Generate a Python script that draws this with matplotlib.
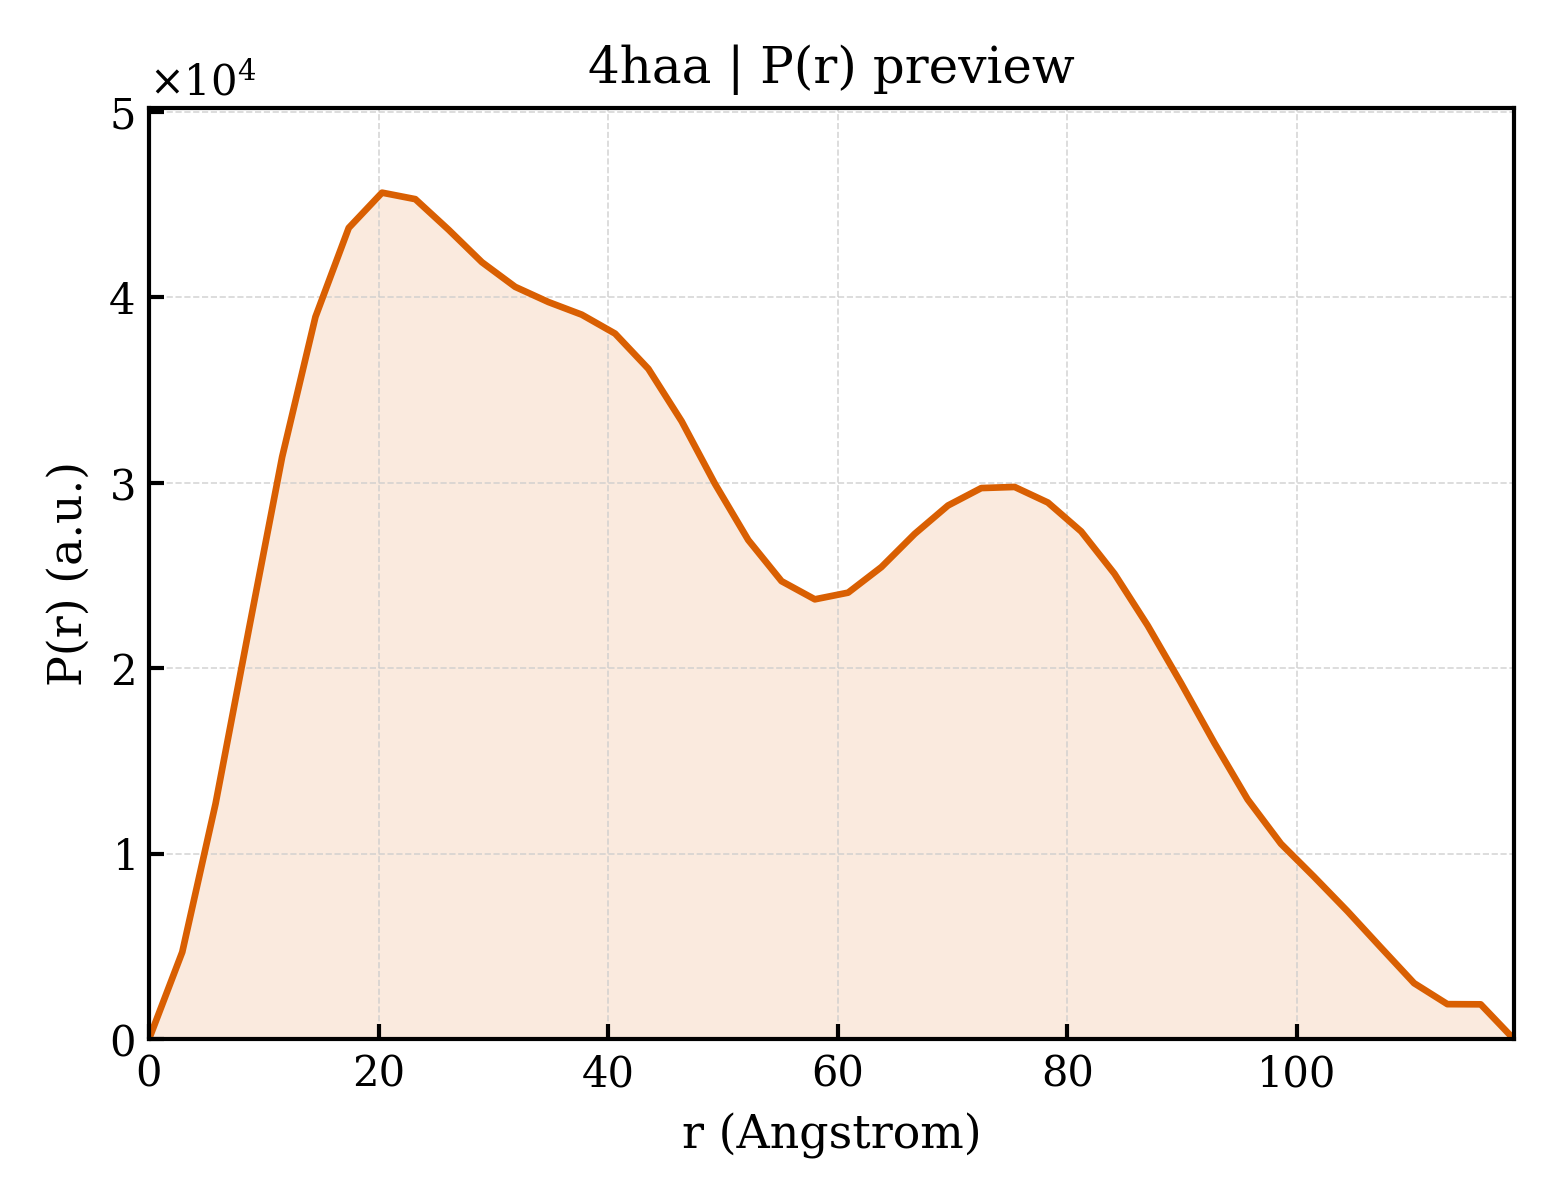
import numpy as np
import matplotlib
matplotlib.use("Agg")
import matplotlib.pyplot as plt
from matplotlib.ticker import ScalarFormatter

# P(r) sampled on a regular r grid (Angstrom)
r = [0.0, 2.9, 5.8, 8.7, 11.6, 14.5, 17.4, 20.3, 23.2, 26.1,
     29.0, 31.9, 34.8, 37.7, 40.6, 43.5, 46.4, 49.3, 52.2, 55.1,
     58.0, 60.9, 63.8, 66.7, 69.6, 72.5, 75.4, 78.3, 81.2, 84.1,
     87.0, 89.9, 92.8, 95.7, 98.6, 101.5, 104.4, 107.3, 110.2, 113.1,
     116.0, 118.9]
pr = [0, 4700, 12700, 22100, 31400, 38950, 43750, 45650, 45300, 43650,
      41900, 40570, 39750, 39070, 38050, 36150, 33320, 29950, 26920, 24700,
      23720, 24080, 25460, 27250, 28780, 29720, 29780, 28940, 27380, 25100,
      22300, 19200, 15980, 12930, 10540, 8750, 6900, 4950, 3020, 1890,
      1880, 0]

plt.rcParams["font.family"] = "DejaVu Serif"
plt.rcParams["mathtext.fontset"] = "dejavuserif"

fig, ax = plt.subplots(figsize=(5.2, 4.0), dpi=300)
color = "#D95F02"
ax.fill_between(r, pr, 0, color=color, alpha=0.13, linewidth=0)
ax.plot(r, pr, color=color, linewidth=1.6)

ax.set_xlim(0, r[-1])
ax.set_ylim(0, max(pr) * 1.1)
ax.set_title("4haa | P(r) preview", fontsize=12)
ax.set_xlabel("r (Angstrom)", fontsize=11)
ax.set_ylabel("P(r) (a.u.)", fontsize=11)

fmt = ScalarFormatter(useMathText=True)
fmt.set_powerlimits((0, 0))
ax.yaxis.set_major_formatter(fmt)
ax.yaxis.get_offset_text().set_fontsize(10)

ax.tick_params(direction="in", labelsize=10, width=1.0, length=3.5)
for s in ax.spines.values():
    s.set_linewidth(1.0)
ax.grid(True, linestyle="--", linewidth=0.4, color="#cccccc", alpha=0.8)

plt.subplots_adjust(left=0.0955, right=0.9705, top=0.91, bottom=0.134)
plt.savefig("out.png", dpi=300)
